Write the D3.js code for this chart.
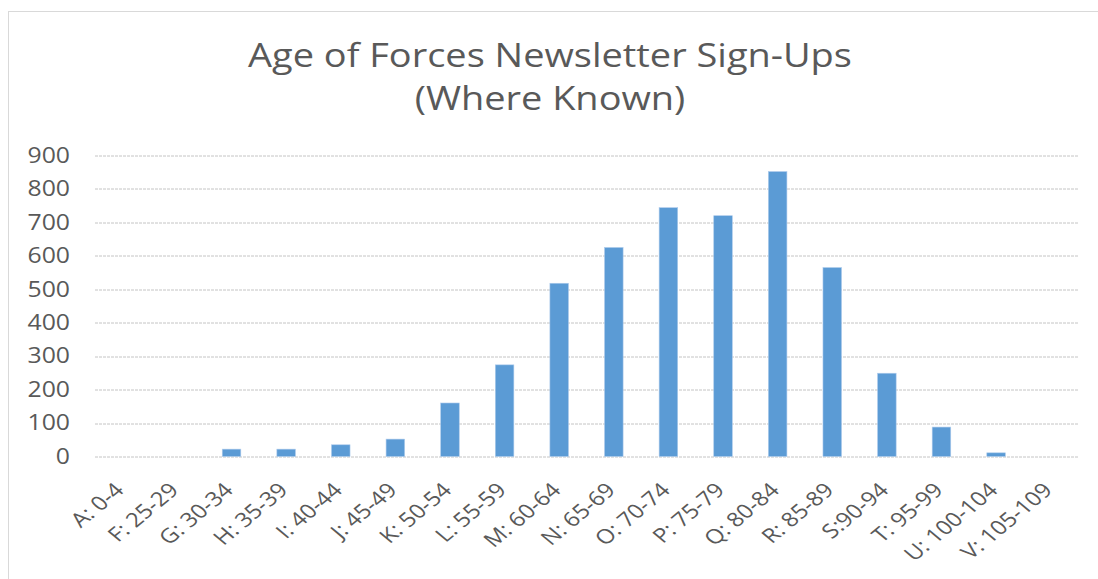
<!DOCTYPE html>
<html>
<head>
<meta charset="utf-8">
<script src="https://cdn.jsdelivr.net/npm/d3@7"></script>
<style>
  body { margin: 0; background: #fff; }
  text { font-family: "Open Sans", Lato, sans-serif; fill: #595959; }
</style>
</head>
<body>
<div id="chart"></div>
<script>
// categories and values
var categories = ["A: 0-4", "F: 25-29", "G: 30-34", "H: 35-39", "I: 40-44", "J: 45-49",
                  "K: 50-54", "L: 55-59", "M: 60-64", "N: 65-69", "O: 70-74", "P: 75-79",
                  "Q: 80-84", "R: 85-89", "S:90-94", "T: 95-99", "U: 100-104", "V: 105-109"];
var signUps = [0, 0, 22, 22, 35, 52, 160, 274, 518, 625, 744, 720, 852, 565, 249, 88, 11, 0];
var yTicks = [0, 100, 200, 300, 400, 500, 600, 700, 800, 900];
var titleLines = ["Age of Forces Newsletter Sign-Ups", "(Where Known)"];

var W = 1098, H = 579;
var margin = {top: 155.5, right: 20, bottom: 122, left: 95};
var width = 1078 - margin.left,
    height = 456.5 - margin.top;
// the original picture is a bit stretched sideways
var stretch = 1.2;

var root = d3.select("#chart")
  .append("svg")
    .attr("width", W)
    .attr("height", H);

// chart area frame
root.append("rect")
  .attr("x", 8.5)
  .attr("y", 11.5)
  .attr("width", W + 10)
  .attr("height", H - 6)
  .attr("fill", "none")
  .attr("stroke", "#d9d9d9");

// title
root.append("g")
  .selectAll("text")
  .data(titleLines)
  .enter()
  .append("text")
    .attr("transform", (d, i) => "translate(550," + (67 + i * 43) + ") scale(1.15,1)")
    .attr("text-anchor", "middle")
    .attr("font-size", 33)
    .text(d => d);

var svg = root.append("g")
  .attr("transform", "translate(" + margin.left + "," + margin.top + ")");

var x = d3.scaleBand()
  .domain(categories)
  .range([0, width])
  .paddingInner(0.66)
  .paddingOuter(0.33);

var y = d3.scaleLinear()
  .domain([0, 900])
  .range([height, 0]);

// gridlines
svg.append("g")
  .selectAll("line")
  .data(yTicks)
  .enter()
  .append("line")
    .attr("x1", 0)
    .attr("x2", width)
    .attr("y1", d => Math.round(y(d)) + 0.5)
    .attr("y2", d => Math.round(y(d)) + 0.5)
    .attr("stroke", "#c4c4c4")
    .attr("stroke-dasharray", "3,1")
    .attr("stroke-width", 1);

// y axis labels
var yAxis = svg.append("g")
  .call(d3.axisLeft(y).tickValues(yTicks).tickSize(0).tickPadding(0));
yAxis.select(".domain").remove();
yAxis.selectAll("text")
  .attr("font-size", 21)
  .attr("font-family", "'Open Sans', sans-serif")
  .attr("fill", "#595959")
  .attr("x", 0)
  .attr("transform", "translate(-25,0) scale(1.18,1)");

// bars
svg.append("g")
  .selectAll("rect")
  .data(signUps)
  .enter()
  .append("rect")
    .attr("x", (d, i) => x(categories[i]))
    .attr("y", d => y(d))
    .attr("width", x.bandwidth())
    .attr("height", d => height - y(d))
    .attr("fill", "#5b9bd5")
    .attr("stroke", "#aecbec")
    .attr("stroke-width", 0.6);

// x axis labels
var xAxis = svg.append("g")
  .attr("transform", "translate(0," + height + ")")
  .call(d3.axisBottom(x).tickSize(0).tickPadding(0));
xAxis.select(".domain").remove();
xAxis.selectAll("text")
  .attr("font-size", 20)
  .attr("font-family", "'Open Sans', sans-serif")
  .attr("fill", "#595959")
  .attr("text-anchor", "end")
  .attr("y", 0)
  .attr("dy", 0)
  .attr("transform", "translate(3,35) scale(" + stretch + ",1) rotate(-45)");
</script>
</body>
</html>
